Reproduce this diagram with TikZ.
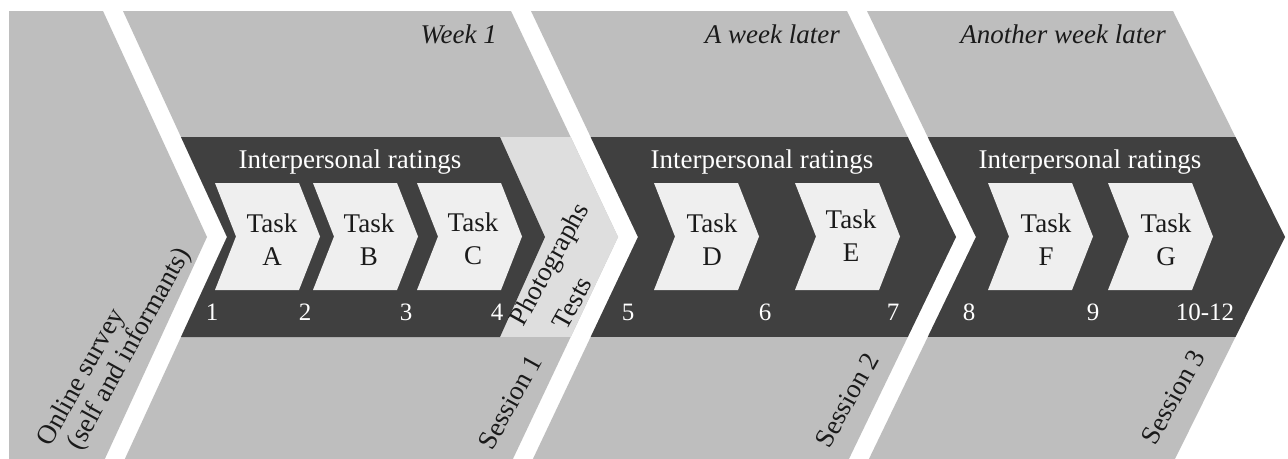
\documentclass[tikz,border=0pt]{standalone}
\usepackage{fontspec}
\setmainfont{Liberation Serif}
\definecolor{panel}{HTML}{BEBEBE}
\definecolor{band}{HTML}{404040}
\definecolor{taskfill}{HTML}{EFEFEF}
\definecolor{photofill}{HTML}{DEDEDE}
\definecolor{ink}{HTML}{1A1A1A}
\tikzset{
  lbl/.style={font=\fontsize{27}{33}\selectfont, inner sep=0pt, text=ink},
  wlbl/.style={lbl, text=white, anchor=base},
  tasklbl/.style={lbl, anchor=base},
  numlbl/.style={font=\fontsize{25}{30}\selectfont, inner sep=0pt, text=white, anchor=base},
  toplbl/.style={lbl, font=\fontsize{27}{33}\selectfont\itshape, anchor=base east},
  rotlbl/.style={lbl, rotate=61},
  taskshape/.style={fill=taskfill},
}
\begin{document}
\begin{tikzpicture}[x=1pt,y=-1pt]
\useasboundingbox (0,0) rectangle (1288,458);
\clip (0,0) rectangle (1288,458);
\fill[white] (0,0) rectangle (1288,458);

% panels
\def\pone{(9,11) -- (103,11) -- (207,237) -- (103,463) -- (9,463) -- cycle}
\def\ptwo{(123,11) -- (511,11) -- (618,237) -- (511,463) -- (123,463) -- (227,237) -- cycle}
\def\pthree{(531,11) -- (847,11) -- (956,237) -- (847,463) -- (531,463) -- (638,237) -- cycle}
\def\pfour{(867,11) -- (1173,11) -- (1285,237) -- (1173,463) -- (867,463) -- (976,237) -- cycle}

\fill[panel] \pone;
\fill[panel] \ptwo;
\fill[panel] \pthree;
\fill[panel] \pfour;

% bands
\begin{scope}
  \clip \ptwo;
  \fill[photofill] (0,137) rectangle (1288,337);
  \fill[band] (0,137) -- (500,137) -- (545,237) -- (500,337) -- (0,337) -- cycle;
\end{scope}
\begin{scope}
  \clip \pthree;
  \fill[band] (0,137) rectangle (1288,337);
\end{scope}
\begin{scope}
  \clip \pfour;
  \fill[band] (0,137) rectangle (1288,337);
\end{scope}

% task chevrons
\foreach \x in {215,313,417,654,795,988,1108}
  \fill[taskshape] (\x,183) -- ++(84,0) -- ++(21,53.5) -- ++(-21,53.5) -- ++(-84,0) -- ++(21,-53.5) -- cycle;

% task labels
\node[tasklbl] (tA) at (272,232) {Task};
\node[tasklbl] (lA) at (272,265) {A};
\node[tasklbl] (tB) at (369,232) {Task};
\node[tasklbl] (lB) at (369,265) {B};
\node[tasklbl] (tC) at (473,231) {Task};
\node[tasklbl] (lC) at (473,264) {C};
\node[tasklbl] (tD) at (712,232) {Task};
\node[tasklbl] (lD) at (712,265) {D};
\node[tasklbl] (tE) at (851,228) {Task};
\node[tasklbl] (lE) at (851,261) {E};
\node[tasklbl] (tF) at (1046,232) {Task};
\node[tasklbl] (lF) at (1046,265) {F};
\node[tasklbl] (tG) at (1166,232) {Task};
\node[tasklbl] (lG) at (1166,265) {G};

% band titles
\node[wlbl] (ir1) at (350,168) {Interpersonal ratings};
\node[wlbl] (ir2) at (762,168) {Interpersonal ratings};
\node[wlbl] (ir3) at (1090,168) {Interpersonal ratings};

% numbers
\node[numlbl] (n1) at (212,320) {1};
\node[numlbl] (n2) at (305,320) {2};
\node[numlbl] (n3) at (406,320) {3};
\node[numlbl] (n4) at (497,320) {4};
\node[numlbl] (n5) at (628,320) {5};
\node[numlbl] (n6) at (765,320) {6};
\node[numlbl] (n7) at (893,320) {7};
\node[numlbl] (n8) at (969,320) {8};
\node[numlbl] (n9) at (1093,320) {9};
\node[numlbl] (n10) at (1205,320) {10-12};

% top labels
\node[toplbl] (w1) at (497,43) {Week 1};
\node[toplbl] (w2) at (840,43) {A week later};
\node[toplbl] (w3) at (1166,43) {Another week later};

% rotated labels
\node[rotlbl] (os1) at (82,378) {Online survey};
\node[rotlbl] (os2) at (130,349) {(self and informants)};
\node[rotlbl] (ph) at (551,265) {Photographs};
\node[rotlbl] (ts) at (572,303) {Tests};
\node[rotlbl] (s1) at (510,402) {Session 1};
\node[rotlbl] (s2) at (847,400) {Session 2};
\node[rotlbl] (s3) at (1173,397) {Session 3};
\end{tikzpicture}
\end{document}
